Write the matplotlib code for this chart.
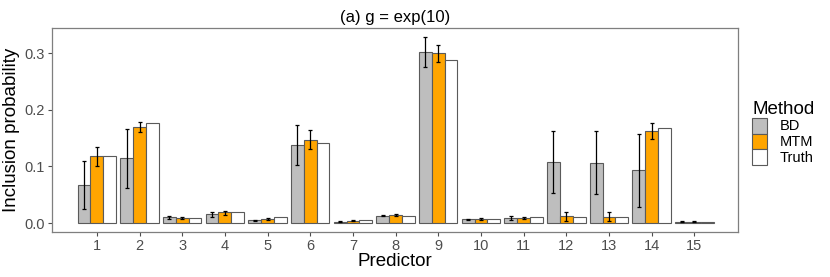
import numpy as np
import matplotlib
matplotlib.use('Agg')
import matplotlib.pyplot as plt
from matplotlib.patches import Patch

plt.rcParams['font.family'] = ['Liberation Sans', 'DejaVu Sans']

predictors = list(range(1, 16))
methods = ['BD', 'MTM', 'Truth']
colors = ['#BEBEBE', '#FFA500', '#FFFFFF']

bd = [0.068, 0.115, 0.010, 0.016, 0.005, 0.138, 0.002, 0.013, 0.302, 0.0066, 0.009, 0.108, 0.106, 0.094, 0.002]
bd_lo = [0.025, 0.062, 0.007, 0.011, 0.003, 0.103, 0.0015, 0.012, 0.275, 0.0055, 0.005, 0.053, 0.051, 0.029, 0.0015]
bd_hi = [0.109, 0.166, 0.013, 0.020, 0.006, 0.173, 0.003, 0.014, 0.328, 0.0075, 0.012, 0.163, 0.162, 0.158, 0.003]

mtm = [0.118, 0.169, 0.009, 0.019, 0.007, 0.147, 0.004, 0.0145, 0.300, 0.0075, 0.009, 0.013, 0.0106, 0.163, 0.0025]
mtm_lo = [0.101, 0.161, 0.007, 0.015, 0.005, 0.131, 0.003, 0.012, 0.284, 0.006, 0.007, 0.004, 0.003, 0.149, 0.002]
mtm_hi = [0.134, 0.178, 0.011, 0.022, 0.009, 0.165, 0.005, 0.016, 0.315, 0.009, 0.011, 0.020, 0.019, 0.176, 0.003]

truth = [0.118, 0.176, 0.009, 0.019, 0.0099, 0.142, 0.005, 0.013, 0.288, 0.0066, 0.010, 0.0106, 0.010, 0.168, 0.0025]

fig = plt.figure(figsize=(8.3, 2.77), dpi=100)
ax = fig.add_axes([0.0627, 0.1614, 0.8268, 0.7375])

x = np.array(predictors, dtype=float)
w = 0.3
vals = [bd, mtm, truth]
for i, (v, c) in enumerate(zip(vals, colors)):
    ax.bar(x + (i - 1) * w, v, width=w, color=c, edgecolor='#5a5a5a', linewidth=0.8, zorder=2)

ax.errorbar(x - w, bd, yerr=[np.array(bd) - np.array(bd_lo), np.array(bd_hi) - np.array(bd)],
            fmt='none', ecolor='black', elinewidth=0.9, capsize=1.5, capthick=0.9, zorder=3)
ax.errorbar(x, mtm, yerr=[np.array(mtm) - np.array(mtm_lo), np.array(mtm_hi) - np.array(mtm)],
            fmt='none', ecolor='black', elinewidth=0.9, capsize=1.5, capthick=0.9, zorder=3)

ax.set_xlim(-0.05, 16.03)
ax.set_ylim(-0.0164, 0.3446)
ax.set_xticks(predictors)
ax.set_xticklabels([str(p) for p in predictors])
ax.set_yticks([0.0, 0.1, 0.2, 0.3])
ax.set_yticklabels(['0.0', '0.1', '0.2', '0.3'])
ax.tick_params(colors='#4D4D4D', labelsize=10.5, length=3, width=0.8, pad=2)
for s in ax.spines.values():
    s.set_color('#7F7F7F')
    s.set_linewidth(0.9)

ax.set_xlabel('Predictor', fontsize=13.5, labelpad=0)
ax.set_ylabel('Inclusion probability', fontsize=13.5, labelpad=3)
ax.set_title('(a) g = exp(10)', fontsize=12, pad=4)

handles = [Patch(facecolor=c, edgecolor='#5a5a5a', linewidth=0.8) for c in colors]
leg = fig.legend(handles, methods, loc='center left', bbox_to_anchor=(0.899, 0.52), frameon=False,
                 title='Method', fontsize=10.5, title_fontsize=13.5, handlelength=1.0, handleheight=1.3,
                 handletextpad=0.9, labelspacing=0.0, borderaxespad=0)
leg._legend_box.align = 'left'

fig.savefig('out.png', dpi=100)
